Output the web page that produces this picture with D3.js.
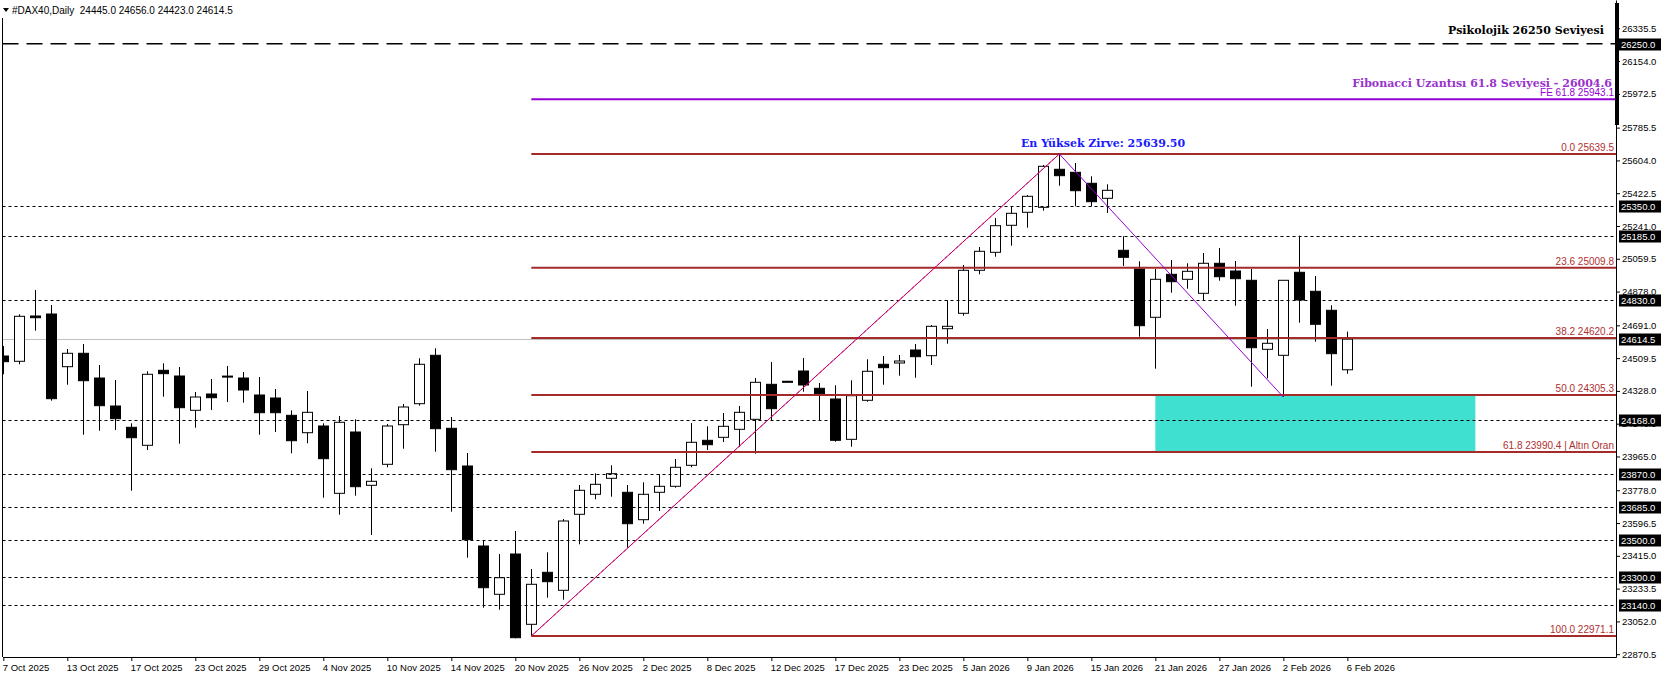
<!DOCTYPE html>
<html><head><meta charset="utf-8">
<script src="https://cdn.jsdelivr.net/npm/d3@7"></script>
<style>body{margin:0;background:#fff;} svg{display:block;}</style>
</head><body>
<script>
// ---------- DATA ----------
const openP  = [24521.2,24491.9,24742.7,24753.7,24462.0,24536.2,24399.4,24244.4,24126.5,24026.9,
                24442.1,24410.5,24220.6,24310.9,24410.0,24399.4,24305.3,24288.7,24192.9,24096.6,
                24133.7,23761.1,24100.5,23805.4,23921.7,24140.9,24257.2,24525.1,24121.0,23912.3,
                23469.4,23202.0,23425.1,23035.9,23323.8,23224.1,23644.9,23755.6,23844.2,23766.7,
                23615.0,23766.7,23799.9,23916.1,24054.5,24071.1,24115.4,24170.8,24364.5,24381.2,
                24438.2,24342.4,24283.2,24060.0,24276.0,24475.3,24482.5,24554.4,24522.9,24672.4,
                24757.6,24995.7,25095.3,25244.8,25316.8,25344.4,25554.8,25538.2,25477.3,25394.3,
                25106.4,25002.9,24735.5,24973.5,24945.8,24868.3,25034.4,24991.8,24940.3,24558.3,
                24525.1,24984.6,24879.4,24774.2,24445.0];
const highP  = [24576.6,24752.0,24886.6,24803.6,24560.0,24587.7,24471.4,24388.4,24148.6,24436.5,
                24480.8,24460.3,24321.9,24393.9,24465.9,24432.7,24405.0,24338.5,24220.6,24327.5,
                24148.6,24189.1,24170.8,23899.5,24144.8,24255.5,24508.5,24563.9,24183.5,23984.2,
                23497.1,23425.1,23552.4,23342.0,23434.5,23618.9,23807.1,23871.8,23916.1,23807.1,
                23822.0,23866.3,23951.0,24150.3,24132.0,24205.7,24244.4,24399.4,24488.0,24384.0,
                24510.2,24371.7,24359.0,24386.7,24503.0,24521.2,24526.8,24587.7,24692.8,24829.6,
                25025.0,25124.7,25285.2,25351.6,25412.5,25578.6,25639.5,25589.7,25516.1,25471.8,
                25183.9,25045.5,25002.9,25052.7,25034.4,25091.4,25119.1,25047.1,25002.9,24670.7,
                24942.0,25187.2,24964.1,24801.9,24656.0];
const lowP   = [24419.9,24475.3,24661.3,24273.8,24362.3,24085.5,24107.7,24111.6,23775.5,24000.8,
                24295.9,24035.7,24124.3,24222.3,24266.6,24262.7,24085.5,24100.5,23982.6,24038.0,
                23736.8,23642.7,23747.9,23530.3,23905.0,24008.0,24246.1,23991.4,23659.3,23404.6,
                23127.8,23116.8,22958.4,22971.1,23183.2,23172.1,23478.8,23728.0,23742.3,23460.0,
                23592.8,23663.1,23792.0,23905.0,24000.8,24045.1,24017.5,23980.4,24165.3,24378.0,
                24323.6,24165.3,24046.8,24019.1,24268.0,24362.3,24412.2,24401.0,24471.4,24589.3,
                24744.4,24973.5,25070.9,25131.9,25231.5,25325.6,25464.0,25350.0,25350.0,25312.9,
                25019.5,24628.1,24450.9,24871.7,24893.8,24829.6,24938.1,24799.7,24351.3,24397.8,
                24294.0,24705.6,24600.4,24356.8,24423.0];
const closeP = [24489.7,24741.0,24733.2,24284.9,24536.2,24384.5,24246.1,24174.1,24068.9,24419.9,
                24423.3,24235.0,24294.3,24290.4,24408.0,24333.0,24207.3,24207.3,24052.3,24209.5,
                23952.7,24154.2,23797.7,23827.6,24133.7,24238.9,24475.3,24118.8,23891.8,23504.3,
                23238.5,23293.9,22961.7,23257.4,23271.8,23607.8,23777.7,23810.9,23869.7,23592.8,
                23755.6,23799.9,23905.1,24043.5,24030.2,24132.0,24209.5,24375.6,24229.5,24380.0,
                24360.7,24312.6,24054.5,24301.4,24436.6,24456.5,24493.5,24517.4,24685.6,24685.6,
                24995.7,25100.8,25242.6,25311.2,25405.3,25571.4,25519.4,25436.3,25375.4,25438.5,
                25067.6,24689.0,24945.8,24932.6,24990.1,25034.4,24960.2,24949.2,24567.2,24591.5,
                24940.3,24831.2,24696.7,24534.0,24614.5];

const dateTickIdx    = [0,4,8,12,16,20,24,28,32,36,40,44,48,52,56,60,64,68,72,76,80,84];
const dateTickLabels = ["7 Oct 2025","13 Oct 2025","17 Oct 2025","23 Oct 2025","29 Oct 2025","4 Nov 2025",
  "10 Nov 2025","14 Nov 2025","20 Nov 2025","26 Nov 2025","2 Dec 2025","8 Dec 2025","12 Dec 2025",
  "17 Dec 2025","23 Dec 2025","5 Jan 2026","9 Jan 2026","15 Jan 2026","21 Jan 2026","27 Jan 2026",
  "2 Feb 2026","6 Feb 2026"];
const priceTickLabels = ["26335.5","26154.0","25972.5","25785.5","25604.0","25422.5","25241.0","25059.5",
  "24878.0","24691.0","24509.5","24328.0","24146.5","23965.0","23778.0","23596.5","23415.0","23233.5",
  "23052.0","22870.5"];
const levelLines  = [25350.0,25185.0,24830.0,24168.0,23870.0,23685.0,23500.0,23300.0,23140.0];
const psychLevel  = 26250.0;
const lastPrice   = 24614.5;
const boxedLabels = [26250.0,25350.0,25185.0,24830.0,24614.5,24168.0,23870.0,23685.0,23500.0,23300.0,23140.0];
const fibLevels   = [0.0,23.6,38.2,50.0,61.8,100.0];
const fibPrices   = [25639.5,25009.8,24620.2,24305.3,23990.4,22971.1];
const fibTexts    = ["0.0 25639.5","23.6 25009.8","38.2 24620.2","50.0 24305.3","61.8 23990.4 | Altın Oran","100.0 22971.1"];
const fibStartIdx = 33;
const feLevel = 25943.1, feText = "FE 61.8 25943.1";
const swingIdx   = [33,66,80];
const swingPrice = [22971.1,25639.5,24294.0];
const zoneIdx    = [72,92];
const zonePrice  = [24305.3,23990.4];
const headerText = "#DAX40,Daily  24445.0 24656.0 24423.0 24614.5";

// ---------- LAYOUT ----------
const W=1662,H=679, plotL=2.5, plotR=1616, plotB=657;
const x=d3.scaleLinear().domain([-0.05,100.79]).range([plotL,plotR]);
const y=d3.scaleLinear().domain([26492.0,22854.9]).range([0,plotB]);
const N=closeP.length;
const candles=d3.range(N).map(i=>({i,o:openP[i],h:highP[i],l:lowP[i],c:closeP[i]}));
const sans='"Liberation Sans", Arial, sans-serif';

const svg=d3.select('body').append('svg').attr('width',W).attr('height',H)
  .style('font-family',sans);
svg.append('rect').attr('width',W).attr('height',H).attr('fill','#fff');
svg.append('defs').append('clipPath').attr('id','clip').append('rect')
  .attr('x',plotL).attr('y',0).attr('width',plotR-plotL).attr('height',plotB);
const g=svg.append('g').attr('clip-path','url(#clip)');

// zone rectangle
g.append('rect').attr('x',x(zoneIdx[0])).attr('width',x(zoneIdx[1])-x(zoneIdx[0]))
  .attr('y',y(zonePrice[0])).attr('height',y(zonePrice[1])-y(zonePrice[0])).attr('fill','#40e0d0');

// last price line
g.append('line').attr('x1',plotL).attr('x2',plotR).attr('y1',Math.round(y(lastPrice))+0.5).attr('y2',Math.round(y(lastPrice))+0.5)
  .attr('stroke','#c0c0c0').attr('stroke-width',1);

// candles
const cg=g.append('g');
cg.selectAll('line.w').data(candles).join('line').attr('class','w')
  .attr('x1',d=>Math.round(x(d.i))+0.5).attr('x2',d=>Math.round(x(d.i))+0.5)
  .attr('y1',d=>y(d.h)).attr('y2',d=>y(d.l)).attr('stroke','#000').attr('stroke-width',1);
cg.selectAll('rect.b').data(candles).join('rect').attr('class','b')
  .attr('x',d=>Math.round(x(d.i))-4.5).attr('width',10)
  .attr('y',d=>y(Math.max(d.o,d.c))).attr('height',d=>Math.max(1,Math.abs(y(d.o)-y(d.c))))
  .attr('fill',d=>d.c>=d.o?'#fff':'#000').attr('stroke','#000').attr('stroke-width',1);

// dashed level lines
g.selectAll('line.lv').data(levelLines).join('line').attr('class','lv')
  .attr('x1',plotL).attr('x2',plotR).attr('y1',d=>Math.round(y(d))+0.5).attr('y2',d=>Math.round(y(d))+0.5)
  .attr('stroke','#000').attr('stroke-width',1).attr('stroke-dasharray','3,3');
g.append('line').attr('x1',plotL).attr('x2',plotR).attr('y1',y(psychLevel)).attr('y2',y(psychLevel))
  .attr('stroke','#000').attr('stroke-width',1.6).attr('stroke-dasharray','16,8');

// fib lines
g.selectAll('line.fib').data(fibPrices).join('line').attr('class','fib')
  .attr('x1',x(fibStartIdx)).attr('x2',plotR).attr('y1',d=>y(d)).attr('y2',d=>y(d))
  .attr('stroke','#a52a2a').attr('stroke-width',2);
g.append('line').attr('x1',x(fibStartIdx)).attr('x2',plotR).attr('y1',y(feLevel)).attr('y2',y(feLevel))
  .attr('stroke','#9400d3').attr('stroke-width',2);

// swing lines
g.append('line').attr('x1',x(swingIdx[0])).attr('y1',y(swingPrice[0])).attr('x2',x(swingIdx[1])).attr('y2',y(swingPrice[1]))
  .attr('stroke','#9400d3').attr('stroke-width',1);
g.append('line').attr('x1',x(swingIdx[0])).attr('y1',y(swingPrice[0])).attr('x2',x(swingIdx[1])).attr('y2',y(swingPrice[1]))
  .attr('stroke','#ff0000').attr('stroke-width',1).attr('stroke-dasharray','3,2');
g.append('line').attr('x1',x(swingIdx[1])).attr('y1',y(swingPrice[1])).attr('x2',x(swingIdx[2])).attr('y2',y(swingPrice[2]))
  .attr('stroke','#9400d3').attr('stroke-width',1);

// fib labels
g.selectAll('text.fl').data(fibPrices).join('text').attr('class','fl')
  .attr('x',plotR-2).attr('y',d=>y(d)-3).attr('text-anchor','end')
  .attr('font-size','10px').attr('fill','#b03030').text((d,i)=>fibTexts[i]);
g.append('text').attr('x',plotR-2).attr('y',y(feLevel)-3).attr('text-anchor','end')
  .attr('font-size','10px').attr('fill','#9400d3').text(feText);

// annotation texts
const serif='"DejaVu Serif", "Liberation Serif", serif';
svg.append('text').attr('x',1604).attr('y',34).attr('text-anchor','end').style('font-family',serif)
  .attr('font-weight','bold').attr('font-size','11px').attr('fill','#000').text('Psikolojik 26250 Seviyesi');
svg.append('text').attr('x',1612).attr('y',87).attr('text-anchor','end').style('font-family',serif)
  .attr('font-weight','bold').attr('font-size','11px').attr('fill','#9932cc').text('Fibonacci Uzantısı 61.8 Seviyesi - 26004.6');
svg.append('text').attr('x',1103).attr('y',146.5).attr('text-anchor','middle').style('font-family',serif)
  .attr('font-weight','bold').attr('font-size','11px').attr('fill','#1a1aff').text('En Yüksek Zirve: 25639.50');

// axes
const yAxis=d3.axisRight(y).tickValues(priceTickLabels.map(Number)).tickFormat((d,i)=>priceTickLabels[i])
  .tickSize(4).tickSizeOuter(0).tickPadding(2);
const ya=svg.append('g').attr('transform',`translate(${plotR},0)`).call(yAxis);
ya.selectAll('text').attr('font-size','9.5px').attr('fill','#000').style('font-family',sans);
ya.selectAll('line,path').attr('stroke','#000');

// boxed labels
const bx=svg.append('g');
bx.selectAll('rect').data(boxedLabels).join('rect').attr('x',plotR+3).attr('width',42)
  .attr('y',d=>Math.round(y(d))-5.5).attr('height',12).attr('fill','#000');
bx.selectAll('text').data(boxedLabels).join('text').attr('x',plotR+5).attr('y',d=>Math.round(y(d))+3.5)
  .attr('font-size','9.5px').attr('fill','#fff').text(d=>d.toFixed(1));

// thick bar on right axis
svg.append('rect').attr('x',plotR-1).attr('y',3).attr('width',4).attr('height',122).attr('fill','#000');

const xAxis=d3.axisBottom(x).tickValues(dateTickIdx).tickFormat((d,i)=>dateTickLabels[i])
  .tickSize(4).tickSizeOuter(0).tickPadding(3);
const xa=svg.append('g').attr('transform',`translate(0,${plotB})`).call(xAxis);
xa.selectAll('text').attr('font-size','9.5px').attr('fill','#000').attr('text-anchor','start').attr('dx','-1')
  .style('font-family',sans);
xa.selectAll('line,path').attr('stroke','#000');

// left border
svg.append('line').attr('x1',plotL).attr('x2',plotL).attr('y1',18).attr('y2',plotB).attr('stroke','#000');

// header
svg.append('path').attr('d','M3,8 L9,8 L6,12 Z').attr('fill','#000');
svg.append('text').attr('x',12).attr('y',13.5).attr('font-size','10px').style('white-space','pre')
  .attr('fill','#000').text(headerText);
</script>
</body></html>
